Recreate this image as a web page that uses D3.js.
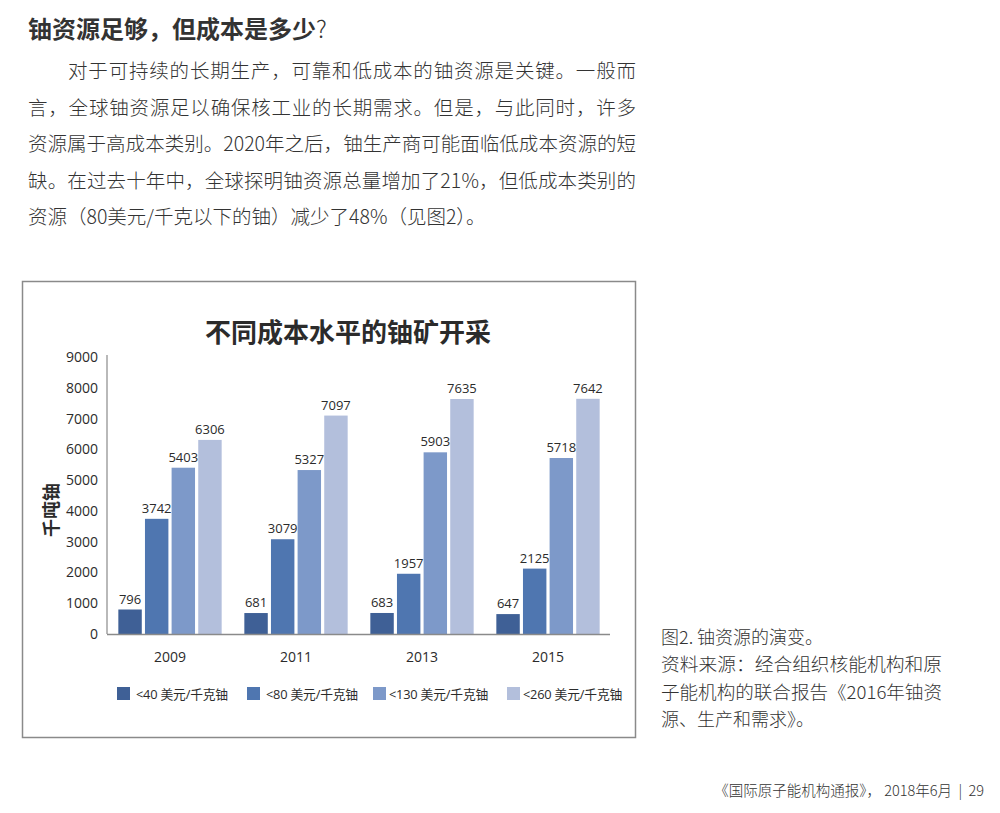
<!DOCTYPE html>
<html lang="zh">
<head>
    <meta charset="UTF-8">
    <title>不同成本水平的铀矿开采</title>
    <script src="https://d3js.org/d3.v7.min.js"></script>
    <style>
        body { margin: 0; background: #fff; }
        svg { display: block; }
        .body-text { font-family: "Noto Sans CJK SC", sans-serif; font-weight: 300; fill: #333; }
        .chart-text { font-family: "Open Sans", "Noto Sans CJK SC", sans-serif; fill: #2b2b2b; }
    </style>
</head>
<body>
    <script>
        // chart data
        const years = ["2009", "2011", "2013", "2015"];
        const seriesNames = ["<40 美元/千克铀", "<80 美元/千克铀", "<130 美元/千克铀", "<260 美元/千克铀"];
        const below40 = [796, 681, 683, 647];
        const below80 = [3742, 3079, 1957, 2125];
        const below130 = [5403, 5327, 5903, 5718];
        const below260 = [6306, 7097, 7635, 7642];
        const yTicks = [0, 1000, 2000, 3000, 4000, 5000, 6000, 7000, 8000, 9000];
        const colors = ["#3f6096", "#4f76b0", "#7d99c9", "#b3bfdc"];

        const series = [below40, below80, below130, below260];

        // page text
        const heading = "铀资源足够，但成本是多少";
        const paragraph = [
            "对于可持续的长期生产，可靠和低成本的铀资源是关键。一般而",
            "言，全球铀资源足以确保核工业的长期需求。但是，与此同时，许多",
            "资源属于高成本类别。2020年之后，铀生产商可能面临低成本资源的短",
            "缺。在过去十年中，全球探明铀资源总量增加了21%，但低成本类别的",
            "资源（80美元/千克以下的铀）减少了48%（见图2）。"
        ];
        const caption = [
            "图2. 铀资源的演变。",
            "资料来源：经合组织核能机构和原",
            "子能机构的联合报告《2016年铀资",
            "源、生产和需求》。"
        ];
        const footer = "《国际原子能机构通报》， 2018年6月  |  29";

        const svg = d3.select("body").append("svg")
            .attr("width", 1000)
            .attr("height", 813);

        svg.append("rect").attr("width", 1000).attr("height", 813).attr("fill", "#fff");

        // heading + paragraph
        const h = svg.append("text")
            .attr("x", 28).attr("y", 38)
            .attr("font-family", "Noto Sans CJK SC, sans-serif")
            .attr("font-size", 24).attr("font-weight", 700)
            .attr("fill", "#333");
        h.append("tspan").text(heading);
        h.append("tspan").attr("font-weight", 300).text("?");

        paragraph.forEach((line, i) => {
            const t = svg.append("text")
                .attr("class", "body-text")
                .attr("x", i === 0 ? 68 : 28)
                .attr("y", 78 + i * 36.5)
                .attr("font-size", 19.5)
                .text(line);
            if (i < 4) {
                t.attr("textLength", i === 0 ? 568 : 608).attr("lengthAdjust", "spacing");
            }
        });

        // chart frame
        svg.append("rect")
            .attr("x", 22.5).attr("y", 281.5)
            .attr("width", 613).attr("height", 456)
            .attr("fill", "none")
            .attr("stroke", "#8a8a8a")
            .attr("stroke-width", 1.5);

        svg.append("text")
            .attr("class", "chart-text")
            .attr("x", 348).attr("y", 342)
            .attr("text-anchor", "middle")
            .attr("font-family", "Noto Sans CJK SC, sans-serif")
            .attr("font-size", 26).attr("font-weight", 700)
            .attr("fill", "#222")
            .text("不同成本水平的铀矿开采");

        const x0 = d3.scaleBand()
            .domain(years)
            .range([107, 611])
            .paddingInner(0.18)
            .paddingOuter(0.09);

        const x1 = d3.scaleBand()
            .domain(d3.range(series.length))
            .range([0, x0.bandwidth()])
            .paddingInner(0.12);

        const y = d3.scaleLinear()
            .domain([0, 9000])
            .range([634, 357]);

        // y axis
        const yAxis = svg.append("g")
            .attr("transform", "translate(107,0)")
            .call(d3.axisLeft(y).tickValues(yTicks).tickSize(0).tickPadding(9).tickFormat(d3.format("d")));
        yAxis.select(".domain").attr("stroke", "#8a8a8a").attr("stroke-width", 1.2)
            .attr("d", `M0,355V634`);
        yAxis.selectAll("text")
            .attr("class", "chart-text")
            .attr("font-size", 14);

        svg.append("text")
            .attr("class", "chart-text")
            .attr("transform", "translate(52,510) rotate(-90)")
            .attr("text-anchor", "middle")
            .attr("dy", "0.35em")
            .attr("font-family", "Noto Sans CJK SC, sans-serif")
            .attr("font-size", 18).attr("font-weight", 700)
            .text("千吨铀");

        // bars
        const groups = svg.selectAll(".year")
            .data(years)
            .enter().append("g")
            .attr("class", "year")
            .attr("transform", d => `translate(${x0(d)},0)`);

        const cells = (d, yi) => series.map((s, si) => ({ si, v: s[yi] }));

        groups.selectAll("rect")
            .data(cells)
            .enter().append("rect")
            .attr("x", d => x1(d.si))
            .attr("width", x1.bandwidth())
            .attr("y", d => y(d.v))
            .attr("height", d => y(0) - y(d.v))
            .attr("fill", d => colors[d.si]);

        groups.selectAll(".val")
            .data(cells)
            .enter().append("text")
            .attr("class", "chart-text")
            .attr("x", d => x1(d.si) + x1.bandwidth() / 2)
            .attr("y", d => y(d.v) - 6)
            .attr("text-anchor", "middle")
            .attr("font-size", 13)
            .text(d => d.v);

        // baseline
        svg.append("line")
            .attr("x1", 107).attr("x2", 610)
            .attr("y1", 634.5).attr("y2", 634.5)
            .attr("stroke", "#8a8a8a").attr("stroke-width", 1.5);

        // year labels
        svg.selectAll(".yr")
            .data(years)
            .enter().append("text")
            .attr("class", "chart-text")
            .attr("x", d => x0(d) + x0.bandwidth() / 2)
            .attr("y", 662)
            .attr("text-anchor", "middle")
            .attr("font-size", 14)
            .text(d => d);

        // legend
        const legendX = [117, 247, 373, 507];
        const legend = svg.selectAll(".leg")
            .data(seriesNames)
            .enter().append("g")
            .attr("transform", (d, i) => `translate(${legendX[i]},687)`);
        legend.append("rect")
            .attr("width", 13).attr("height", 13)
            .attr("fill", (d, i) => colors[i]);
        legend.append("text")
            .attr("class", "chart-text")
            .attr("x", (d, i) => i < 2 ? 19 : 16)
            .attr("y", 11.5)
            .attr("font-size", 12.8)
            .attr("letter-spacing", -0.2)
            .text(d => d);

        // caption
        caption.forEach((line, i) => {
            const t = svg.append("text")
                .attr("class", "body-text")
                .attr("x", 661)
                .attr("y", 644 + i * 27.3)
                .attr("font-size", 18)
                .text(line);
            if (i === 1 || i === 2) t.attr("textLength", 281).attr("lengthAdjust", "spacingAndGlyphs");
        });

        svg.append("text")
            .attr("class", "body-text")
            .attr("x", 984).attr("y", 796)
            .attr("text-anchor", "end")
            .attr("font-size", 14.5)
            .style("white-space", "pre")
            .text(footer);
    </script>
</body>
</html>
